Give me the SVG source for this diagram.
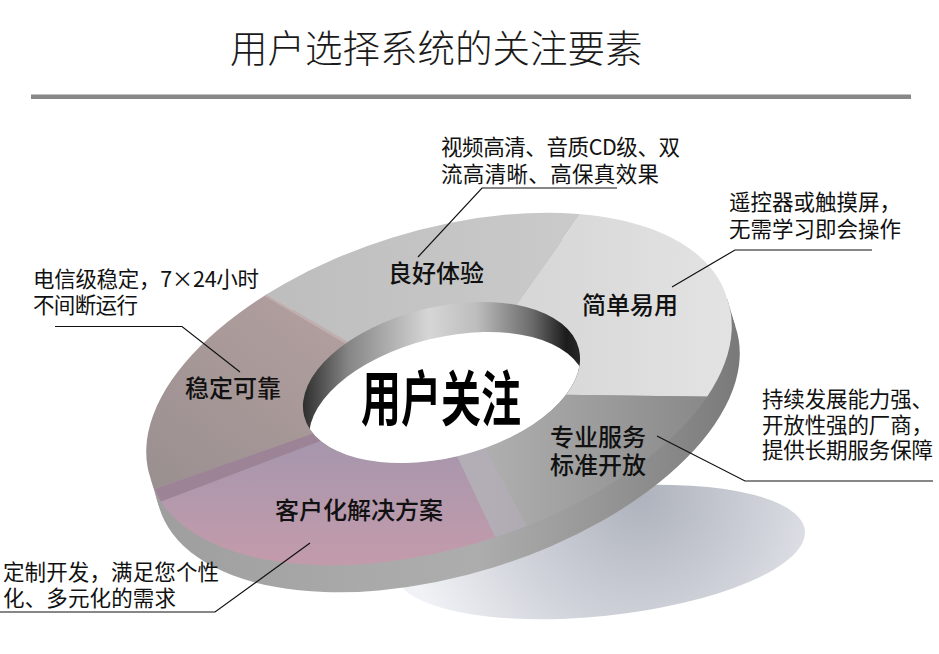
<svg xmlns="http://www.w3.org/2000/svg" width="939" height="654" viewBox="0 0 939 654">
<style>
text{font-family:"Noto Sans CJK SC","Noto Sans",sans-serif;fill:#111}
.title{font-size:37.5px;font-weight:300;fill:#1a1a1a}
.note{font-size:21.5px}
.seg{font-size:24px;font-weight:500}
.big{font-size:40px;font-weight:bold;fill:#000}
.lead{fill:none;stroke:#111;stroke-width:1.2}
</style>
<defs>
<radialGradient id="gShadow" gradientUnits="userSpaceOnUse" cx="640" cy="495" r="240">
<stop offset="0" stop-color="#aeb2bc"/>
<stop offset="0.55" stop-color="#d0d3da"/>
<stop offset="1" stop-color="#f1f2f6"/>
</radialGradient>
<linearGradient id="gSide" gradientUnits="userSpaceOnUse" x1="150" y1="0" x2="745" y2="0">
<stop offset="0" stop-color="#9e9e9e"/>
<stop offset="0.35" stop-color="#a9a9a9"/>
<stop offset="0.55" stop-color="#adadad"/>
<stop offset="0.75" stop-color="#979797"/>
<stop offset="0.92" stop-color="#838383"/>
<stop offset="1" stop-color="#787878"/>
</linearGradient>
<linearGradient id="gStable" gradientUnits="userSpaceOnUse" x1="300" y1="300" x2="160" y2="480">
<stop offset="0" stop-color="#b19e9e"/>
<stop offset="1" stop-color="#9b9090"/>
</linearGradient>
<linearGradient id="gGood" gradientUnits="userSpaceOnUse" x1="260" y1="0" x2="600" y2="0">
<stop offset="0" stop-color="#bdbdbd"/>
<stop offset="1" stop-color="#cbcbcb"/>
</linearGradient>
<linearGradient id="gEasy" gradientUnits="userSpaceOnUse" x1="540" y1="0" x2="730" y2="0">
<stop offset="0" stop-color="#d7d7d7"/>
<stop offset="1" stop-color="#e3e3e3"/>
</linearGradient>
<linearGradient id="gPro" gradientUnits="userSpaceOnUse" x1="480" y1="0" x2="730" y2="0">
<stop offset="0" stop-color="#b0b0b0"/>
<stop offset="1" stop-color="#858585"/>
</linearGradient>
<linearGradient id="gCust" gradientUnits="userSpaceOnUse" x1="0" y1="440" x2="0" y2="560">
<stop offset="0" stop-color="#a696ad"/>
<stop offset="1" stop-color="#c29bab"/>
</linearGradient>
<linearGradient id="gWall" gradientUnits="userSpaceOnUse" x1="303" y1="0" x2="583" y2="0">
<stop offset="0" stop-color="#2e2e2e"/>
<stop offset="0.16" stop-color="#858585"/>
<stop offset="0.45" stop-color="#d6d6d6"/>
<stop offset="0.62" stop-color="#bdbdbd"/>
<stop offset="0.82" stop-color="#6a6a6a"/>
<stop offset="0.94" stop-color="#1c1c1c"/>
<stop offset="1" stop-color="#2a2a2a"/>
</linearGradient>
<clipPath id="topClip">
<path d="M727.3,299.2 A302,156 -17.3 1 0 150.7,478.8 A302,156 -17.3 1 0 727.3,299.2 Z"/>
</clipPath>
<clipPath id="holeClip">
<path d="M578.9,349 A141.4,75.3 -13.7 1 0 304.1,416 A141.4,75.3 -13.7 1 0 578.9,349 Z"/>
</clipPath>
</defs>

<g id="title">
<text class="title" x="230" y="62">用户选择系统的关注要素</text>
<rect x="31" y="94.5" width="880" height="4.5" fill="#888888"/>
</g>

<g id="ring">
<path id="shadow" fill="url(#gShadow)" d="M804.9,530.5 A206,64 -6 1 0 395.1,573.5 A206,64 -6 1 0 804.9,530.5 Z"/>
<g id="side" fill="url(#gSide)">
<path d="M735.3,326.2 A302,156 -17.3 1 0 158.7,505.8 A302,156 -17.3 1 0 735.3,326.2 Z"/>
<polygon points="150.7,478.8 727.3,299.2 735.3,326.2 158.7,505.8"/>
</g>
<g id="top-surface" clip-path="url(#topClip)">
<polygon id="seg-stable" fill="url(#gStable)" points="441,383 392,368 180,243 60,200 60,508 100,508 350,421"/>
<polygon id="seg-good" fill="url(#gGood)" points="441,383 500,328 610,172 610,140 180,140 180,243 392,368"/>
<polygon id="seg-easy" fill="url(#gEasy)" points="441,383 500,394 800,398 800,140 610,140 610,172 500,328"/>
<polygon id="seg-pro" fill="url(#gPro)" points="441,383 500,394 800,398 850,398 850,650 515,650 515,579 440,420"/>
<polygon id="seg-cust" fill="url(#gCust)" points="441,383 350,421 100,508 60,508 60,650 515,650 515,579 440,420"/>
<polygon fill="#9c8496" points="350,420.6 100,508 100,524.8 350,429.8"/>
<polygon fill="#b6aebb" opacity="0.6" points="440,420 515,579 545,560 465,410"/>
<polygon fill="#c9b6b6" opacity="0.7" points="392,368 180,243 180,246 392,371"/>
</g>
<g id="hole">
<path fill="url(#gWall)" d="M578.9,349 A141.4,75.3 -13.7 1 0 304.1,416 A141.4,75.3 -13.7 1 0 578.9,349 Z"/>
<g clip-path="url(#holeClip)">
<path fill="#ffffff" d="M584.9,379 A141.4,75.3 -13.7 1 0 310.1,446 A141.4,75.3 -13.7 1 0 584.9,379 Z"/>
</g>
</g>
</g>

<g id="center-node">
<text class="big" transform="translate(361 421) scale(1 1.5)">用户关注</text>
</g>

<g id="node-good">
<text class="seg" x="388" y="282">良好体验</text>
<text class="note" x="441" y="155" textLength="239">视频高清、音质CD级、双</text>
<text class="note" x="441" y="182" textLength="218">流高清晰、高保真效果</text>
</g>
<g id="node-easy">
<text class="seg" x="582" y="314">简单易用</text>
<text class="note" x="729" y="210" textLength="172">遥控器或触摸屏，</text>
<text class="note" x="729" y="237" textLength="172">无需学习即会操作</text>
</g>
<g id="node-stable">
<text class="seg" x="185" y="397">稳定可靠</text>
<text class="note" x="33" y="287" textLength="226">电信级稳定，7×24小时</text>
<text class="note" x="33" y="313" textLength="105">不间断运行</text>
</g>
<g id="node-pro">
<text class="seg" x="550" y="446">专业服务</text>
<text class="seg" x="550" y="474">标准开放</text>
<text class="note" x="762" y="407" textLength="171">持续发展能力强、</text>
<text class="note" x="762" y="433" textLength="171">开放性强的厂商，</text>
<text class="note" x="762" y="458" textLength="171">提供长期服务保障</text>
</g>
<g id="node-cust">
<text class="seg" x="275" y="519">客户化解决方案</text>
<text class="note" x="3" y="580" textLength="216">定制开发，满足您个性</text>
<text class="note" x="3" y="606" textLength="173">化、多元化的需求</text>
</g>

<g id="connectors">
<polyline class="lead" points="617,188 482,188 418,257"/>
<polyline class="lead" points="872,250 735,250 672,287"/>
<polyline class="lead" points="933,481 745,481 657,436"/>
<polyline class="lead" points="55,326.5 182,326.5 240,372"/>
<polyline class="lead" points="0,612 215,612 310,543"/>
</g>
</svg>
